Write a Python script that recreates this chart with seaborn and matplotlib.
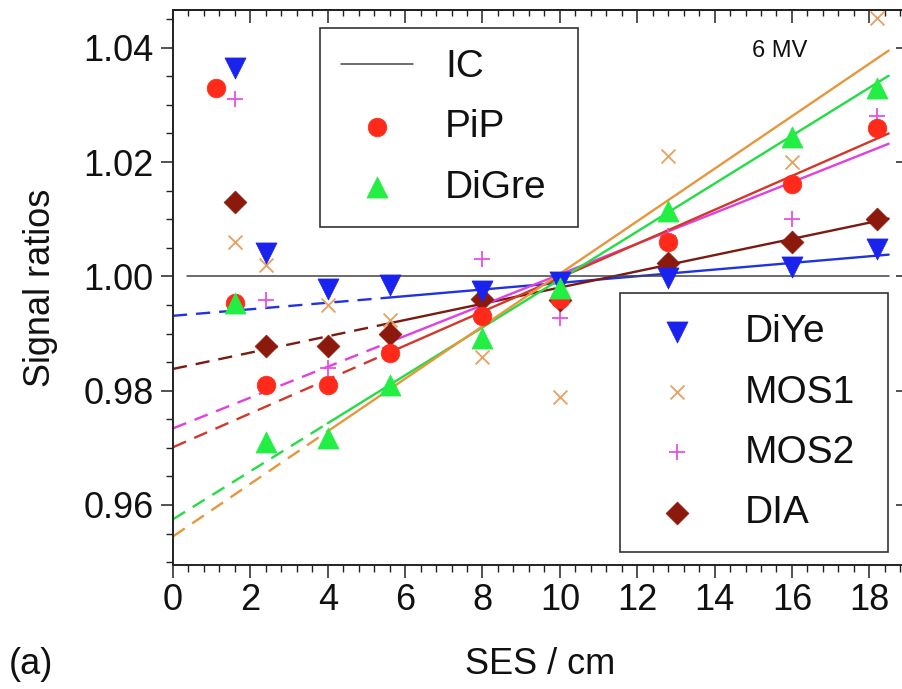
import matplotlib
matplotlib.use('Agg')
import matplotlib.pyplot as plt
import seaborn as sns
from matplotlib.lines import Line2D
from matplotlib.ticker import MultipleLocator, FormatStrFormatter

sns.set_theme(style='ticks')
# Helvetica-like font, set after seaborn theme
plt.rcParams['font.family'] = ['Liberation Sans', 'DejaVu Sans']
plt.rcParams['text.color'] = '#111111'
plt.rcParams['axes.labelcolor'] = '#111111'
plt.rcParams['xtick.labelcolor'] = '#111111'
plt.rcParams['ytick.labelcolor'] = '#111111'

# --- data ---
# SES positions (cm)
ses = [1.6, 2.4, 4.0, 5.6, 8.0, 10.0, 12.8, 16.0, 18.2]
ses_pip = [1.1, 1.6, 2.4, 4.0, 5.6, 8.0, 10.0, 12.8, 16.0, 18.2]

# signal ratios per detector
pip = [1.033, 0.9953, 0.981, 0.981, 0.9866, 0.993, 0.996, 1.006, 1.0162, 1.026]
digre = [0.9953, 0.971, 0.9717, 0.981, 0.9892, 0.998, 1.0115, 1.0243, 1.033]
diye = [1.0365, 1.004, 0.9978, 0.9985, 0.9975, 0.999, 0.9997, 1.0016, 1.0047]
mos1 = [1.006, 1.002, 0.995, 0.9923, 0.9859, 0.9789, 1.0211, 1.020, 1.0452]
mos2 = [1.031, 0.9958, 0.984, 0.9875, 1.0031, 0.9928, 1.007, 1.010, 1.028]
dia = [1.013, 0.9878, 0.9878, 0.990, 0.996, 0.9958, 1.0023, 1.006, 1.010]

# IC reference line
ic_x = [0.35, 18.5]
ic_y = [1.0, 1.0]

# linear fits: value at x=0, at the end of the dashed part, and at the right end
fit_x_a = [0.0, 5.6, 18.5]
fit_x_b = [0.0, 4.0, 18.5]
diye_fit = [0.9931, 0.9963, 1.0038]
dia_fit = [0.9838, 0.9918, 1.0101]
mos2_fit = [0.9734, 0.9885, 1.0232]
pip_fit = [0.9701, 0.9867, 1.0250]
digre_fit = [0.9575, 0.9743, 1.0351]
mos1_fit = [0.9545, 0.9729, 1.0395]

fig = plt.figure(figsize=(9.03, 6.89), dpi=100)
ax = fig.add_axes([173 / 903, 124 / 689, 735 / 903, 555 / 689])

# fit lines: dashed extrapolation, solid over the fitted range
fits = [(fit_x_a, diye_fit, '#2233dd'), (fit_x_a, dia_fit, '#7a1a10'),
        (fit_x_a, mos2_fit, '#e040e0'), (fit_x_a, pip_fit, '#d2382a'),
        (fit_x_b, digre_fit, '#22dd44'), (fit_x_b, mos1_fit, '#e8963c')]
for fx, fy, c in fits:
    sns.lineplot(x=fx[:2], y=fy[:2], ax=ax, color=c, lw=1.7,
                 linestyle=(0, (6, 3.8)), zorder=2)
    sns.lineplot(x=fx[1:], y=fy[1:], ax=ax, color=c, lw=1.7, zorder=2)

sns.lineplot(x=ic_x, y=ic_y, ax=ax, color='#444444', lw=1.1, zorder=2)

# markers
handles = {}
series = [('MOS1', ses, mos1, 'x', 100, '#e8a060'),
          ('MOS2', ses, mos2, '+', 130, '#e850e0'),
          ('DIA', ses, dia, 'D', 135, '#8b1a0c'),
          ('DiYe', ses, diye, 'v', 230, '#1a22ee'),
          ('PiP', ses_pip, pip, 'o', 180, '#ff2a1a'),
          ('DiGre', ses, digre, '^', 230, '#22ee44')]
for name, sx, sy, m, s, c in series:
    if m in ('x', '+'):
        sns.scatterplot(x=sx, y=sy, ax=ax, marker=m, s=s, color=c,
                        linewidth=1.3, zorder=3)
    else:
        sns.scatterplot(x=sx, y=sy, ax=ax, marker=m, s=s, color=c,
                        edgecolor=c, linewidth=0.5, zorder=3)
    handles[name] = ax.collections[-1]

# axes limits and ticks
ax.set_xlim(0, 19.0)
ax.set_ylim(0.9495, 1.0466)
ax.set_xticks([0, 2, 4, 6, 8, 10, 12, 14, 16, 18])
ax.set_yticks([0.96, 0.98, 1.00, 1.02, 1.04])
ax.xaxis.set_minor_locator(MultipleLocator(0.4))
ax.yaxis.set_minor_locator(MultipleLocator(0.005))
ax.yaxis.set_major_formatter(FormatStrFormatter('%.2f'))
ax.tick_params(axis='both', which='major', direction='out', length=9,
               width=1.1, labelsize=26, color='#222222')
ax.tick_params(axis='both', which='minor', direction='out', length=5,
               width=1.0, color='#222222')
ax.tick_params(axis='x', pad=4)
ax.tick_params(axis='y', pad=5)
for sp in ax.spines.values():
    sp.set_linewidth(1.4)
    sp.set_color('#222222')

# inward ticks on top and right
top = ax.secondary_xaxis('top')
top.set_xticks([0, 2, 4, 6, 8, 10, 12, 14, 16, 18])
top.xaxis.set_minor_locator(MultipleLocator(0.4))
top.tick_params(axis='x', which='major', direction='in', length=9,
                width=1.1, labeltop=False, color='#222222')
top.tick_params(axis='x', which='minor', direction='in', length=4,
                width=1.0, color='#222222')
right = ax.secondary_yaxis('right')
right.set_yticks([0.96, 0.98, 1.00, 1.02, 1.04])
right.yaxis.set_minor_locator(MultipleLocator(0.005))
right.tick_params(axis='y', which='major', direction='in', length=9,
                  width=1.1, labelright=False, color='#222222')
right.tick_params(axis='y', which='minor', direction='in', length=4,
                  width=1.0, color='#222222')

ax.set_xlabel('SES / cm', fontsize=26, labelpad=21)
ax.set_ylabel('Signal ratios', fontsize=26, labelpad=18)
ax.text(0.826, 0.926, '6 MV', transform=ax.transAxes, fontsize=17,
        ha='center', va='center')
fig.text(0.010, 0.036, '(a)', fontsize=26, va='center')

# legends
leg_kw = dict(loc='upper left', mode='expand', borderaxespad=0,
              fontsize=28, frameon=True, fancybox=False, framealpha=1,
              borderpad=0.55, handlelength=1.85, handletextpad=0.82,
              labelspacing=0.62, scatterpoints=1)
ic_handle = Line2D([], [], color='#444444', lw=1.1)
leg1 = ax.legend([ic_handle, handles['PiP'], handles['DiGre']],
                 ['IC', 'PiP', 'DiGre'],
                 bbox_to_anchor=(0.2, 0.4676, 0.351, 0.5), **leg_kw)
leg1.get_frame().set_edgecolor('#333333')
leg1.get_frame().set_linewidth(1.2)
ax.add_artist(leg1)
leg2 = ax.legend([handles['DiYe'], handles['MOS1'], handles['MOS2'], handles['DIA']],
                 ['DiYe', 'MOS1', 'MOS2', 'DIA'],
                 bbox_to_anchor=(0.608, 0.0, 0.3646, 0.490), **leg_kw)
leg2.get_frame().set_edgecolor('#333333')
leg2.get_frame().set_linewidth(1.2)

fig.savefig('out.png', dpi=100)
